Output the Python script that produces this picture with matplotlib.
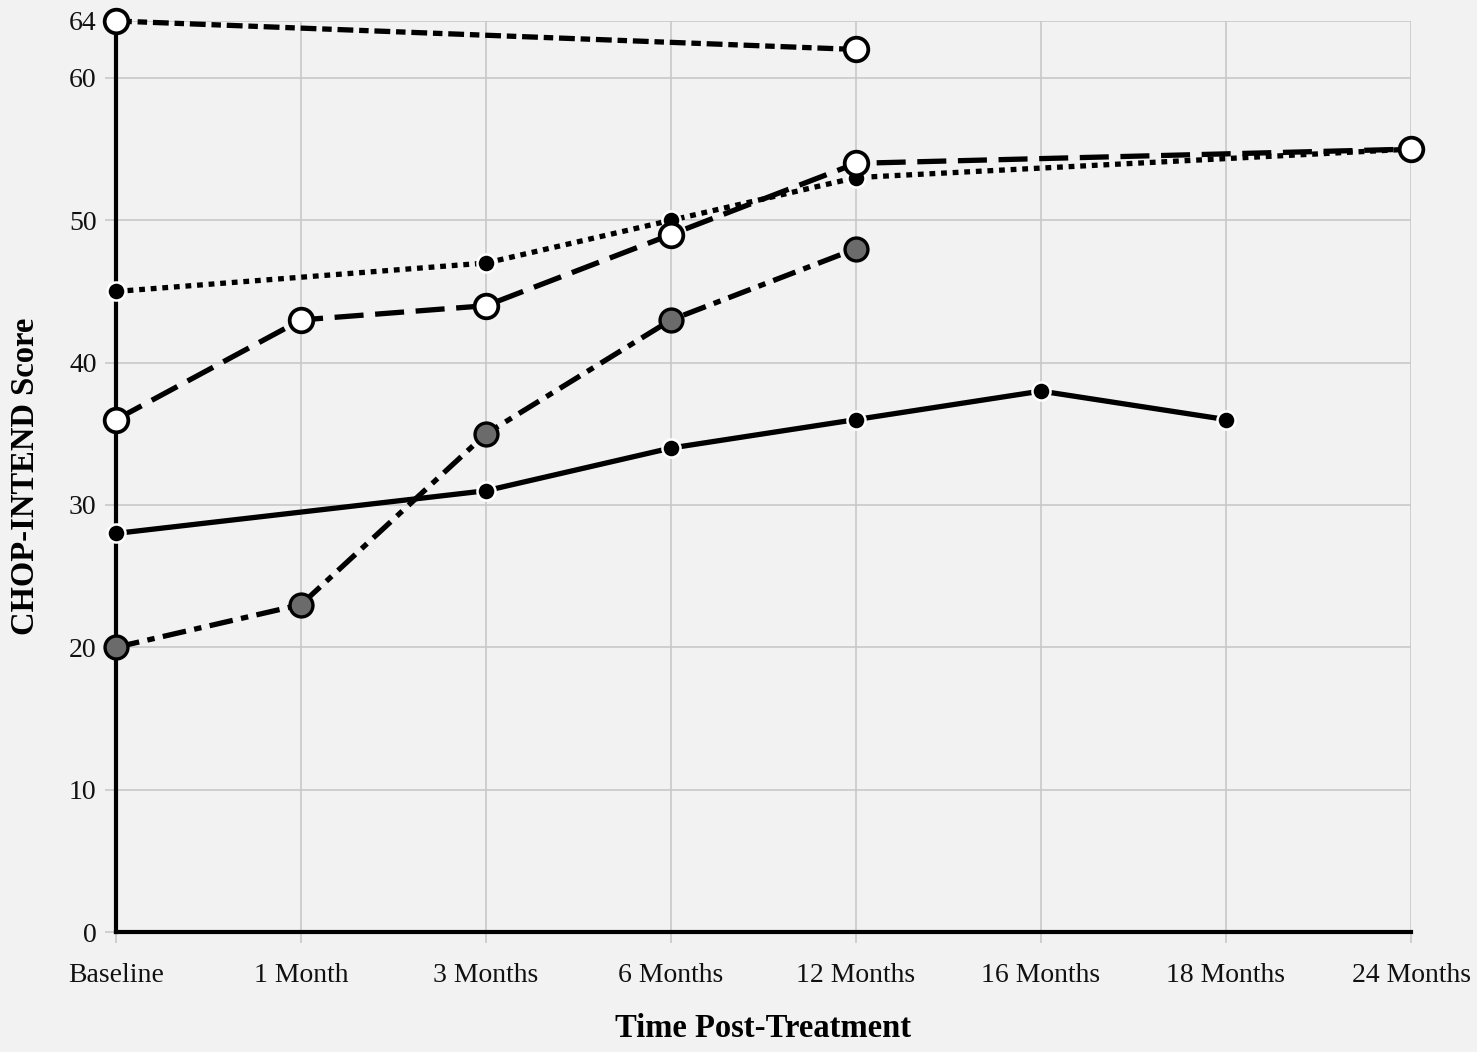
import numpy as np
import matplotlib.pyplot as plt

plt.rcParams['font.family'] = ['Liberation Serif', 'DejaVu Serif']

time_labels = ['Baseline', '1 Month', '3 Months', '6 Months', '12 Months',
               '16 Months', '18 Months', '24 Months']

# each patient: (time indices, CHOP-INTEND scores)
p1_t = [0, 4]
p1_y = [64, 62]
p2_t = [0, 1, 2, 3, 4, 7]
p2_y = [36, 43, 44, 49, 54, 55]
p3_t = [0, 2, 3, 4, 7]
p3_y = [45, 47, 50, 53, 55]
p4_t = [0, 1, 2, 3, 4]
p4_y = [20, 23, 35, 43, 48]
p5_t = [0, 2, 3, 4, 5, 6]
p5_y = [28, 31, 34, 36, 38, 36]

bg = '#f2f2f2'
fig = plt.figure(figsize=(14.77, 10.52), dpi=100, facecolor=bg)
ax = fig.add_axes([116 / 1477, 1 - 932 / 1052, (1411 - 116) / 1477, (932 - 21) / 1052])
ax.set_facecolor(bg)

lw = 3.8
ax.plot(p5_t, p5_y, color='black', lw=lw, ls='-', marker='o', ms=13,
        mfc='black', mec='white', mew=1.8, zorder=3, clip_on=False)
ax.plot(p4_t, p4_y, color='black', lw=lw, ls=(0, (4.5, 1.6, 1.4, 1.6)), marker='o', ms=16.5,
        mfc='#6b6b6b', mec='black', mew=2.4, zorder=4, clip_on=False)
ax.plot(p3_t, p3_y, color='black', lw=lw, ls=(0, (1.1, 1.1)), marker='o', ms=13,
        mfc='black', mec='white', mew=1.8, zorder=5, clip_on=False)
ax.plot(p2_t, p2_y, color='black', lw=lw, ls=(0, (5.5, 2.2)), marker='o', ms=17,
        mfc='white', mec='black', mew=2.7, zorder=6, clip_on=False)
ax.plot(p1_t, p1_y, color='black', lw=lw, ls=(0, (3, 1.1, 1.8, 1.1)), marker='o', ms=17,
        mfc='white', mec='black', mew=2.7, zorder=6, clip_on=False)

ax.set_xlim(0, 7)
ax.set_ylim(0, 64)
ax.set_xticks(range(len(time_labels)))
ax.set_xticklabels(time_labels)
ax.set_yticks([0, 10, 20, 30, 40, 50, 60, 64])
ax.grid(True, color='#c8c8c8', lw=1.2)
ax.set_axisbelow(True)

for s in ['top', 'right']:
    ax.spines[s].set_visible(False)
for s in ['left', 'bottom']:
    ax.spines[s].set_linewidth(3)
    ax.spines[s].set_color('black')
    ax.spines[s].set_zorder(2.5)

ax.tick_params(axis='both', colors='#c8c8c8', length=8, width=1.2, labelsize=20,
               labelcolor='#111111', pad=6)
ax.tick_params(axis='x', pad=14)

ax.set_xlabel('Time Post-Treatment', fontsize=23.5, fontweight='bold', labelpad=18)
ax.set_ylabel('CHOP-INTEND Score', fontsize=23.5, fontweight='bold', labelpad=20)

fig.savefig('out.png', dpi=100, facecolor=bg)
